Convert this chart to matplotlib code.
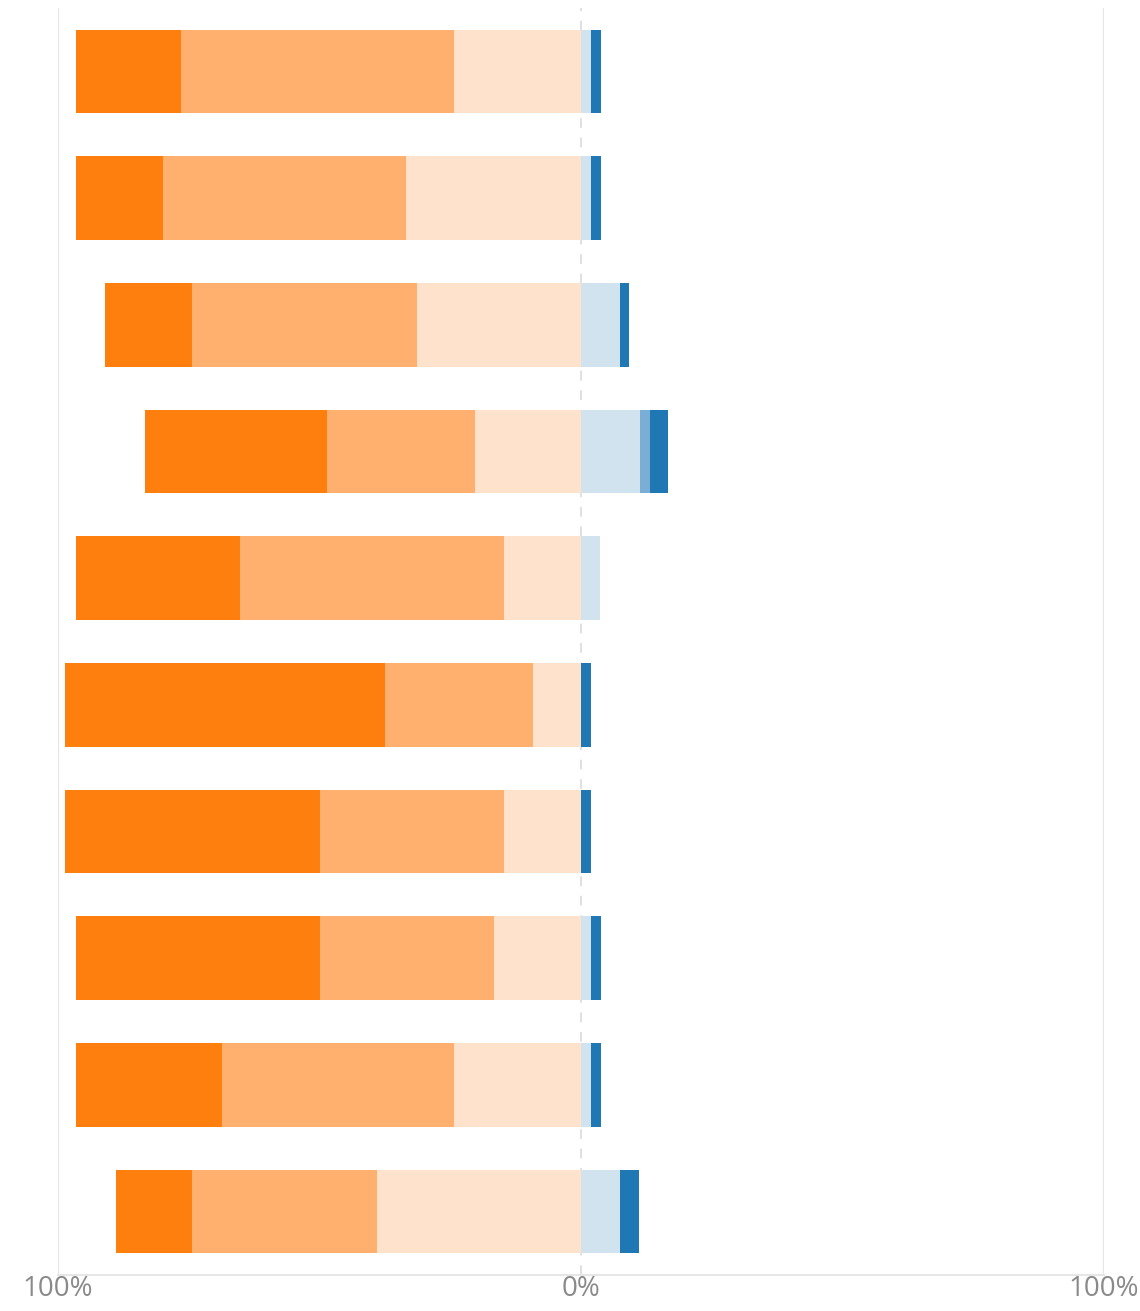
import numpy as np
import matplotlib.pyplot as plt

# valores (%), de cima para baixo
neg_forte = [20.1, 16.7, 16.7, 34.9, 31.4, 61.3, 48.7, 46.6, 27.8, 14.6]
neg_medio = [52.1, 46.4, 42.9, 28.2, 50.4, 28.2, 35.2, 33.3, 44.4, 35.2]
neg_fraco = [24.3, 33.5, 31.4, 20.3, 14.8, 9.2, 14.8, 16.7, 24.3, 39.1]
pos_fraco = [1.9, 1.9, 7.5, 11.2, 3.6, 0.0, 0.0, 1.9, 1.9, 7.5]
pos_medio = [0.0, 0.0, 0.0, 2.0, 0.0, 0.0, 0.0, 0.0, 0.0, 0.0]
pos_forte = [2.0, 2.0, 1.6, 3.5, 0.0, 1.9, 1.9, 2.0, 2.0, 3.6]

ticks = [-100, 0, 100]
tick_labels = ["100%", "0%", "100%"]

cores_neg = ["#ff7f0e", "#ffb06e", "#ffe2cc"]
cores_pos = ["#d2e3f0", "#7aaed6", "#1f77b4"]

fig = plt.figure(figsize=(11.4, 13.11), dpi=100)
ax = fig.add_axes([58/1140, 36/1311, 1046/1140, 1267/1311])

y = np.arange(len(neg_forte))
h = 0.66

# lado negativo (laranja), empilhado a partir do zero para a esquerda
esq = np.zeros(len(y))
for vals, cor in zip([neg_fraco, neg_medio, neg_forte], cores_neg[::-1]):
    vals = np.array(vals)
    ax.barh(y, -vals, left=-esq, height=h, color=cor, linewidth=0, zorder=3)
    esq = esq + vals

# lado positivo (azul)
dir_ = np.zeros(len(y))
for vals, cor in zip([pos_fraco, pos_medio, pos_forte], cores_pos):
    vals = np.array(vals)
    ax.barh(y, vals, left=dir_, height=h, color=cor, linewidth=0, zorder=3)
    dir_ = dir_ + vals

ax.axvline(-100, color="#e6e6e6", lw=1.6, zorder=1)
ax.axvline(100, color="#e6e6e6", lw=1.6, zorder=1)
ax.axvline(0, color="#e0e0e0", lw=1.4, ls=(0, (5, 5)), zorder=1)

ax.set_xlim(-100, 100)
ax.set_ylim(len(y) - 0.5, -0.5)
ax.set_yticks([])
ax.set_xticks(ticks)
ax.set_xticklabels(tick_labels, fontsize=20, color="#8a8a8a", family="Open Sans")
ax.tick_params(axis="x", length=0, pad=0)

for s in ["top", "left", "right"]:
    ax.spines[s].set_visible(False)
ax.spines["bottom"].set_color("#e6e6e6")
ax.spines["bottom"].set_linewidth(1.4)

fig.savefig("out.png", dpi=100)
